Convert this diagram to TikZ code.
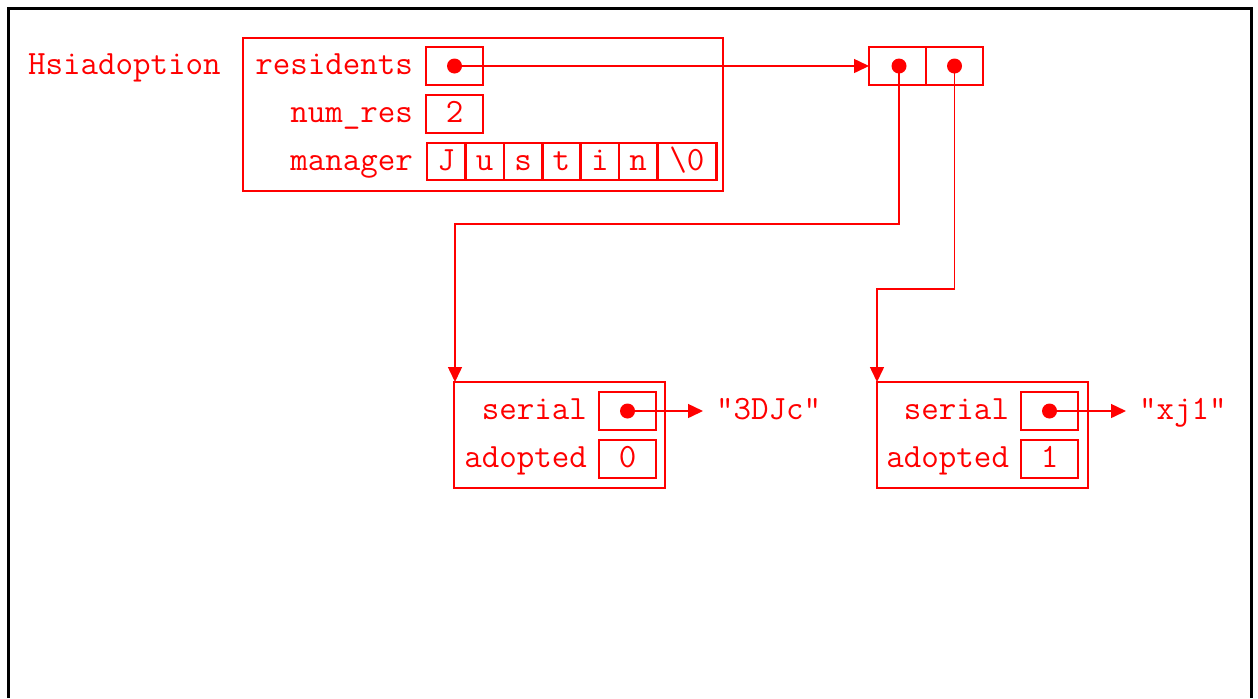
\documentclass[tikz,border=0pt]{standalone}
\usetikzlibrary{arrows.meta, positioning}
\tikzstyle{code} = [font=\ttfamily\fontsize{17pt}{20pt}\selectfont, text=red,
    inner sep=0pt, outer sep=0pt, text height=8.5pt, text depth=0pt]
\tikzstyle{cell} = [code, rectangle, draw=red, line width=1.3pt,
    minimum width=28.5pt, minimum height=19pt]
\tikzstyle{chcell} = [cell, minimum width=19.2pt, minimum height=18.5pt]
\tikzstyle{frame} = [rectangle, draw=red, line width=1.3pt, outer sep=0pt, inner sep=0pt]
\tikzstyle{label} = [code, anchor=east]
\tikzstyle{dot} = [circle, fill=red, inner sep=0pt, minimum size=7.5pt]
\tikzstyle{line} = [draw=red, line width=0.75pt, -{Triangle[length=7.5pt,width=7pt]}]

\begin{document}
\begin{tikzpicture}[x=0.5pt, y=-0.5pt]
  \useasboundingbox (0,0) rectangle (1258,698);
  \draw[line width=1.6pt] (8.5,698) -- (8.5,8.5) -- (1251.5,8.5) -- (1251.5,698);

  % Place nodes
  % Hsiadoption
  \node[code, anchor=west] (name) at (28,66) {Hsiadoption};
  \node[frame, minimum width=240pt, minimum height=76.5pt] (hsia) at (483,114.5) {};
  \node[label] (reslbl) at (413,66) {residents};
  \node[label] (numlbl) at (413,114) {num\_res};
  \node[label] (mgrlbl) at (413,162) {manager};
  \node[cell] (res) at (454.5,66) {};
  \node[dot] (resdot) at (res.center) {};
  \node[cell] (num) at (454.5,114) {2};
  \foreach \ch [count=\i from 0] in {J,u,s,t,i,n}
    \node[chcell] (mgr\i) at ({446.2+38.4*\i},161.5) {\ch};
  \node[chcell, minimum width=29.5pt, anchor=west] (mgr6) at (mgr5.east) {\textbackslash0};
  % residents array
  \node[cell] (arr1) at (897.5,66) {};
  \node[cell, anchor=west] (arr2) at (arr1.east) {};
  \node[dot] (arrdot1) at ([xshift=0.75pt]arr1.center) {};
  \node[dot] (arrdot2) at (arr2.center) {};
  % first resident
  \node[frame, minimum width=105.5pt, minimum height=53pt] (sa) at (559.5,435) {};
  \node[label] (salbl1) at (587,411) {serial};
  \node[label] (salbl2) at (587,459) {adopted};
  \node[cell] (saser) at (627.5,411) {};
  \node[dot] (sadot) at (saser.center) {};
  \node[cell] (saadp) at (627.5,459) {0};
  \node[code, anchor=west] (sastr) at (716,411) {"3DJc"};
  % second resident
  \node[frame, minimum width=105.5pt, minimum height=53pt] (sb) at (982.5,435) {};
  \node[label] (sblbl1) at (1009,411) {serial};
  \node[label] (sblbl2) at (1009,459) {adopted};
  \node[cell] (sbser) at (1049.5,411) {};
  \node[dot] (sbdot) at (sbser.center) {};
  \node[cell] (sbadp) at (1049.5,459) {1};
  \node[code, anchor=west] (sbstr) at (1139,411) {"xj1"};

  % Draw edges
  \coordinate (bend1) at (455,224);
  \coordinate (bend2) at (877,289);
  \path [line] (resdot.center) -- (arr1.west);
  \path [line] (arrdot1.center) |- (bend1) -- (bend1 |- sa.north);
  \path [line] (arrdot2.center) |- (bend2) -- (bend2 |- sb.north);
  \path [line] (sadot.center) -- ([xshift=-6.5pt]sastr.west);
  \path [line] (sbdot.center) -- ([xshift=-6.5pt]sbstr.west);
\end{tikzpicture}
\end{document}
